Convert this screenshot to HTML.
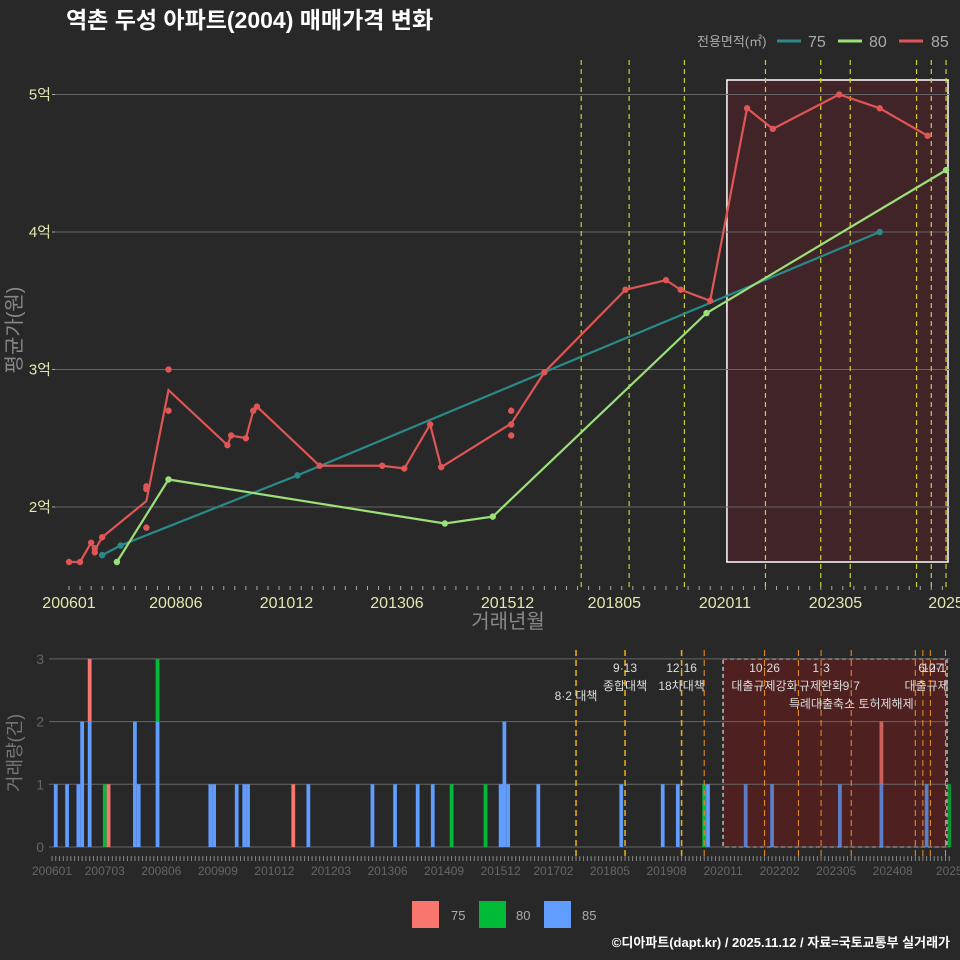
<!DOCTYPE html>
<html><head><meta charset="utf-8"><style>
html,body{margin:0;padding:0;background:#282828;}
svg{display:block;font-family:"Liberation Sans","Noto Sans CJK KR",sans-serif;}
</style></head><body>
<svg id="c" width="960" height="960" viewBox="0 0 960 960">
<rect width="960" height="960" fill="#282828"/>
<text x="66" y="28" font-size="23" font-weight="bold" fill="#ffffff">역촌 두성 아파트(2004) 매매가격 변화</text>
<g>
<text x="697" y="46" font-size="13" fill="#aaaaaa">전용면적(㎡)</text>
<line x1="777" y1="41" x2="801" y2="41" stroke="#2a8a8a" stroke-width="3"/>
<text x="808" y="47" font-size="16" fill="#aaaaaa">75</text>
<line x1="838" y1="41" x2="862" y2="41" stroke="#9be07a" stroke-width="3"/>
<text x="869" y="47" font-size="16" fill="#aaaaaa">80</text>
<line x1="899" y1="41" x2="923" y2="41" stroke="#e05555" stroke-width="3"/>
<text x="931" y="47" font-size="16" fill="#aaaaaa">85</text>
</g>
<g id="topg"></g>
<g id="botg"></g>
<g>
<rect x="412" y="901" width="27" height="27" fill="#f8766d"/>
<text x="451" y="920" font-size="13" fill="#aaaaaa">75</text>
<rect x="479" y="901" width="27" height="27" fill="#00ba38"/>
<text x="516" y="920" font-size="13" fill="#aaaaaa">80</text>
<rect x="544" y="901" width="27" height="27" fill="#619cff"/>
<text x="582" y="920" font-size="13" fill="#aaaaaa">85</text>
</g>
<text x="950" y="947" font-size="13" font-weight="bold" fill="#ffffff" text-anchor="end">©디아파트(dapt.kr) / 2025.11.12 / 자료=국토교통부 실거래가</text>
</svg>
<script>
// ---- data ----
const dates85 = ["200601","200604","200607","200608","200608","200610","200710","200710","200710","200804","200804","200908","200909","201001","201003","201004","201109","201302","201308","201403","201406","201601","201601","201601","201610","201808","201907","201911","202007","202105","202112","202306","202405","202506"];
const prices85 = [1.6,1.6,1.74,1.67,1.7,1.78,2.15,2.13,1.85,3.0,2.7,2.45,2.52,2.5,2.7,2.73,2.3,2.3,2.28,2.6,2.29,2.6,2.7,2.52,2.98,3.58,3.65,3.58,3.5,4.9,4.75,5.0,4.9,4.7];
const dates75 = ["200610","200703","201103","202405"];
const prices75 = [1.65,1.72,2.23,4.0];
const dates80 = ["200702","200804","201407","201508","202006","202511"];
const prices80 = [1.6,2.2,1.88,1.93,3.41,4.45];
const yTicksTop = [2,3,4,5];
const yTickLabelsTop = ["2억","3억","4억","5억"];
const xLabelsTop = ["200601","200806","201012","201306","201512","201805","202011","202305","202511"];
const policyTop = ["201708","201809","201912","202110","202301","202309","202503","202507","202511"];
// volume
const volMonths = ["200602","200605","200608","200609","200611","200703","200704","200711","200712","200805","200907","200908","201002","201004","201005","201105","201109","201302","201308","201402","201406","201411","201508","201512","201601","201602","201610","201808","201907","201911","202006","202007","202105","202112","202306","202405","202505","202511"];
const vol75 = [0,0,0,0,1,0,1,0,0,0,0,0,0,0,0,1,0,0,0,0,0,0,0,0,0,0,0,0,0,0,0,0,0,0,0,1,0,0];
const vol80 = [0,0,0,0,0,1,0,0,0,1,0,0,0,0,0,0,0,0,0,0,0,1,1,0,0,0,0,0,0,0,1,0,0,0,0,0,0,1];
const vol85 = [1,1,1,2,2,0,0,2,1,2,1,1,1,1,1,0,1,1,1,1,1,0,0,1,2,1,1,1,1,1,0,1,1,1,1,1,1,0];
const yTicksBot = [0,1,2,3];
const xLabelsBot = ["200601","200703","200806","200909","201012","201203","201306","201409","201512","201702","201805","201908","202011","202202","202305","202408","202511"];
const policyBot = ["201708","201809","201912","202006","202110","202207","202301","202309","202502","202504","202506","202510"];
const annDates = ["201708","201809","201809","201912","201912","202110","202110","202301","202301","202309","202309","202506","202507","202505"];
const annRows = [1,0,1,0,1,0,1,0,1,1,2,0,0,1];
const annTexts = ["8·2 대책","9·13","종합대책","12·16","18차대책","10·26","대출규제강화","1·3","규제완화","9·7","특례대출축소 토허제해제","6·27","10·1","대출규제"];

const NS="http://www.w3.org/2000/svg";
function mk(tag,attrs,parent,name,txt){const e=document.createElementNS(NS,tag);for(const k in attrs)e.setAttribute(k,attrs[k]);


if(txt!==undefined)e.textContent=txt;parent.appendChild(e);return e;}
function mi(d){return (parseInt(d.slice(0,4))-2006)*12+parseInt(d.slice(4))-1;}
const topG=document.getElementById('topg'), botG=document.getElementById('botg');
const xT=d=>69+mi(d)*3.685;
const yT=v=>507-(v-2)*137.5;
mk('rect',{x:xT("202011")+2,y:80,width:948-xT("202011")-2,height:482,fill:"rgba(100,30,38,0.4)",stroke:"#ffffff","stroke-width":1.5},topG,'highlight-box');
yTicksTop.forEach((v,i)=>{
 mk('line',{x1:55,x2:950,y1:yT(v),y2:yT(v),stroke:"#666","stroke-width":1},topG,'y-gridline');
 mk('line',{x1:52,x2:55,y1:yT(v),y2:yT(v),stroke:"#aaa"},topG,'y-tick');
 mk('text',{x:51,y:yT(v)+5,"font-size":15,fill:"#e6e6b0","text-anchor":"end"},topG,'y-tick-label',yTickLabelsTop[i]);
});
policyTop.forEach(d=>mk('line',{x1:xT(d),x2:xT(d),y1:60,y2:588,stroke:"#d0d030","stroke-width":1.2,"stroke-dasharray":"5,4"},topG,'policy-line'));
for(let m=0;m<=238;m+=3){const x=69+m*3.685;mk('line',{x1:x,x2:x,y1:586,y2:590,stroke:"#aaa","stroke-width":1},topG,'x-tick');}
xLabelsTop.forEach(d=>mk('text',{x:xT(d),y:608,"font-size":16,fill:"#e6e6b0","text-anchor":"middle"},topG,'x-tick-label',d==="202511"?"2025":d));
mk('text',{x:508,y:628,"font-size":20,fill:"#888","text-anchor":"middle"},topG,'x-axis-title',"거래년월");
mk('text',{x:0,y:0,"font-size":20,fill:"#888","text-anchor":"middle",transform:"translate(21,330) rotate(-90)"},topG,'y-axis-title',"평균가(원)");
function series(dates,vals,color,name){
 const groups={};dates.forEach((d,i)=>{(groups[d]=groups[d]||[]).push(vals[i]);});
 const keys=Object.keys(groups).sort();
 const pts=keys.map(k=>xT(k)+","+yT(groups[k].reduce((a,b)=>a+b,0)/groups[k].length)).join(" ");
 mk('polyline',{points:pts,fill:"none",stroke:color,"stroke-width":2.2},topG,'line-'+name);
 dates.forEach((d,i)=>mk('circle',{cx:xT(d),cy:yT(vals[i]),r:3.2,fill:color},topG,'point-'+name));
}
series(dates75,prices75,"#2a8a8a","75");
series(dates80,prices80,"#9be07a","80");
series(dates85,prices85,"#e05555","85");
const xB=d=>52+mi(d)*3.77;
const yB=v=>847-v*62.7;
mk('rect',{x:xB("202011"),y:659,width:947-xB("202011"),height:188,fill:"rgba(110,25,25,0.55)",stroke:"#bbbbbb","stroke-width":1.5,"stroke-dasharray":"4,3"},botG,'highlight-box-volume');
yTicksBot.forEach(v=>{
 mk('line',{x1:49,x2:950,y1:yB(v),y2:yB(v),stroke:"#666"},botG,'y-gridline');
 mk('text',{x:44,y:yB(v)+5,"font-size":14,fill:"#666","text-anchor":"end"},botG,'y-tick-label',String(v));
});
volMonths.forEach((d,i)=>{
 const x=xB(d)-1.9;let b=0;
 [[vol85[i],"#619cff"],[vol80[i],"#00ba38"],[vol75[i],"#f8766d"]].forEach(([v,c],j)=>{
  if(v>0){mk('rect',{x:x,y:yB(b+v),width:3.77,height:v*62.7,fill:c,opacity:mi(d)>=178?0.75:1},botG,'volume-bar-'+["85","80","75"][j]);b+=v;}
 });
});
policyBot.forEach((d,i)=>mk('line',{x1:xB(d),x2:xB(d),y1:650,y2:858,stroke:i<3?"#e6a817":"#e08a20","stroke-width":i<3?1.6:1.1,"stroke-dasharray":"6,4"},botG,'policy-line-volume'));
annDates.forEach((d,i)=>mk('text',{x:xB(d),y:672+annRows[i]*18+(i===0?10:0),"font-size":12,fill:"#dddddd","text-anchor":"middle"},botG,'policy-annotation',annTexts[i]));
for(let m=0;m<=238;m++){const x=52+m*3.77;mk('line',{x1:x,x2:x,y1:856,y2:861,stroke:"#888","stroke-width":1},botG,'x-tick');}
xLabelsBot.forEach(d=>mk('text',{x:xB(d),y:875,"font-size":12,fill:"#666","text-anchor":"middle"},botG,'x-tick-label',d==="202511"?"2025":d));
mk('text',{x:0,y:0,"font-size":18,fill:"#777","text-anchor":"middle",transform:"translate(21,753) rotate(-90)"},botG,'y-axis-title-volume',"거래량(건)");
</script>
</body></html>
